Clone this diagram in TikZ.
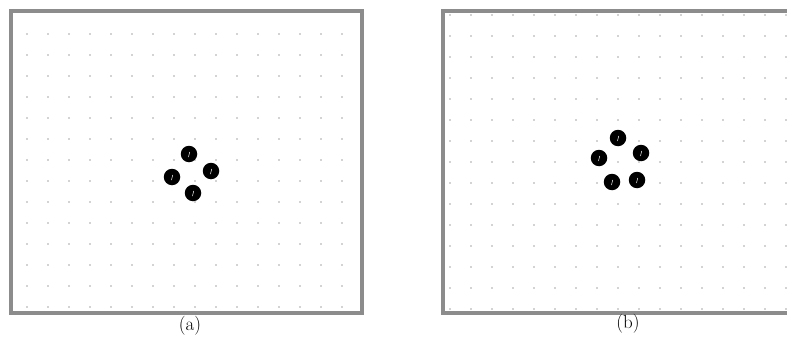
\documentclass[tikz,border=0pt]{standalone}
\usepackage{fontspec}
\usepackage{tikz}
\usetikzlibrary{positioning}
\definecolor{framegrey}{HTML}{8C8C8C}
\definecolor{dotgrey}{HTML}{444444}

\begin{document}
\begin{tikzpicture}[x=1pt, y=-1pt,
  frame/.style={draw=framegrey, line width=3.4pt},
  griddot/.style={fill=dotgrey},
  ball/.style={circle, fill=black, minimum size=16.5pt, inner sep=0pt,
    path picture={\draw[white, line width=0.5pt]
      ([shift={(-0.5pt,-3pt)}]path picture bounding box.center) -- ++(1.2pt,5pt);}},
  caption/.style={font=\fontsize{19}{21}\selectfont, inner sep=0pt}]
  \useasboundingbox (0,0) rectangle (787,337);
  \fill[white] (0,0) rectangle (787,337);

  % left panel
  \foreach \i in {0,...,15}
    \foreach \j in {0,...,13}
      \fill[griddot] (27+21*\i, 34+21*\j) circle (0.65);
  \draw[frame] (11,11) rectangle (362,313);
  \node[ball] (a1) at (189,154) {};
  \node[ball] (a2) at (211,171) {};
  \node[ball] (a3) at (172,177) {};
  \node[ball] (a4) at (193,193) {};
  \node[caption] (capa) at (190,326) {(a)};

  % right panel
  \foreach \i in {0,...,16}
    \foreach \j in {0,...,14}
      \fill[griddot] (450+21*\i, 15+21*\j) circle (0.65);
  \draw[frame] (443,11) rectangle (795,313);
  \node[ball] (b1) at (618,138) {};
  \node[ball] (b2) at (641,153) {};
  \node[ball] (b3) at (599,158) {};
  \node[ball] (b4) at (612,182) {};
  \node[ball] (b5) at (637,180) {};
  \node[caption] (capb) at (628,324) {(b)};
\end{tikzpicture}
\end{document}
